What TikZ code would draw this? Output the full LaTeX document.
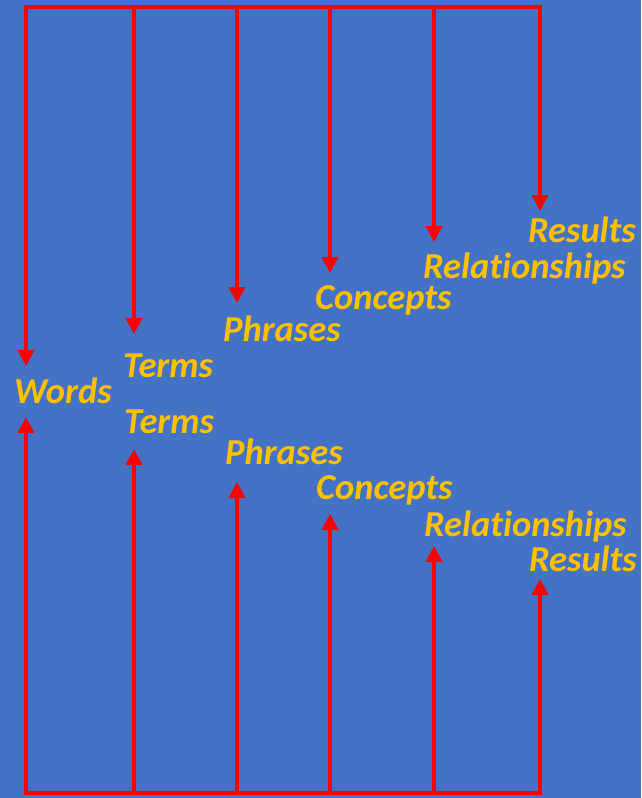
\documentclass[tikz,border=0pt]{standalone}
\usepackage{fontspec}
\setmainfont[Ligatures=NoCommon]{Carlito}
\usetikzlibrary{arrows.meta}
\definecolor{bg}{HTML}{4472C4}
\definecolor{ln}{HTML}{FF0000}
\definecolor{tx}{HTML}{FFC000}
\tikzset{
  lbl/.style={anchor=base west, inner sep=0pt, text=tx, font=\fontsize{36.5}{36.5}\selectfont\bfseries\itshape},
  wire/.style={draw=ln, line width=4pt},
  arr/.style={wire, -{Triangle[width=16pt,length=16pt]}}
}
\begin{document}
\begin{tikzpicture}[x=1pt,y=-1pt]
\fill[bg] (0,0) rectangle (641,798);
\useasboundingbox (0,0) rectangle (641,798);
% labels
\node[lbl] (words) at (14,403) {Words};
\node[lbl] (termsT) at (123,377) {Terms};
\node[lbl] (termsB) at (124,433) {Terms};
\node[lbl] (phrT) at (223,341) {Phrases};
\node[lbl] (phrB) at (225,464) {Phrases};
\node[lbl] (conT) at (315,309) {Concepts};
\node[lbl] (conB) at (316,499) {Concepts};
\node[lbl] (relT) at (423,278) {Relationships};
\node[lbl] (relB) at (424,536) {Relationships};
\node[lbl] (resT) at (528,242) {Results};
\node[lbl] (resB) at (529,571) {Results};
% top and bottom bus points
\foreach \n/\x in {a/26,b/134,c/237,d/330,e/434,f/540}{
  \coordinate (t\n) at (\x,7);
  \coordinate (b\n) at (\x,793);
}
% arrow tips
\coordinate (ta') at (26,366);
\coordinate (tb') at (134,334);
\coordinate (tc') at (237,303);
\coordinate (td') at (330,273);
\coordinate (te') at (434,242);
\coordinate (tf') at (540,211);
\coordinate (ba') at (26,417);
\coordinate (bb') at (134,449);
\coordinate (bc') at (237,482);
\coordinate (bd') at (330,514);
\coordinate (be') at (434,546);
\coordinate (bf') at (540,579);
\draw[wire, line cap=rect] (ta) -- (tf);
\draw[wire, line cap=rect] (ba) -- (bf);
\foreach \n in {a,b,c,d,e,f}{
  \draw[arr] (t\n) -- (t\n');
  \draw[arr] (b\n) -- (b\n');
}
\end{tikzpicture}
\end{document}
